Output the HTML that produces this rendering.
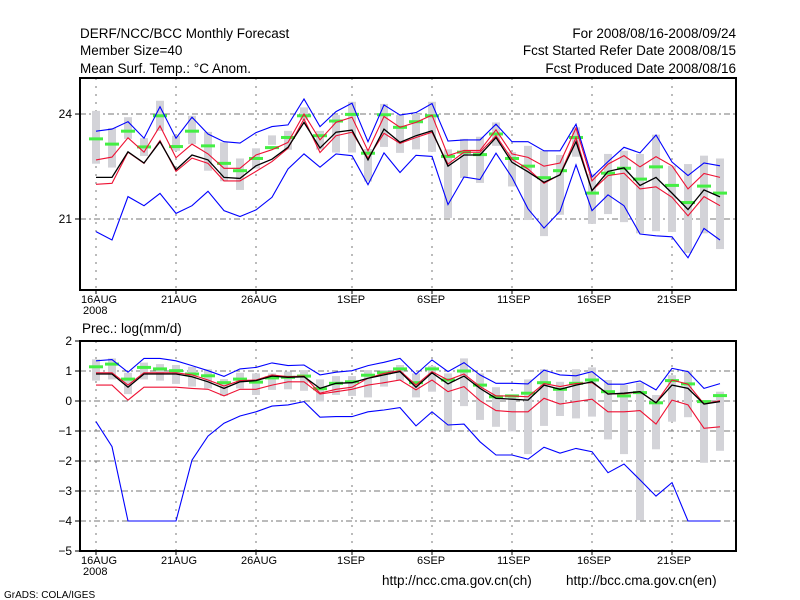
<!DOCTYPE html>
<html><head><meta charset="utf-8">
<style>
html,body{margin:0;padding:0;background:#fff;}
svg{display:block;font-family:"Liberation Sans",sans-serif;}
</style></head>
<body>
<svg id="chart" width="800" height="600" viewBox="0 0 800 600" xmlns="http://www.w3.org/2000/svg">
<rect x="0" y="0" width="800" height="600" fill="#fff"/>
<g font-size="13.5" fill="#000">
<text x="80" y="38">DERF/NCC/BCC Monthly Forecast</text>
<text x="80" y="55">Member Size=40</text>
<text x="80" y="73">Mean Surf. Temp.: °C Anom.</text>
<text x="736" y="38" text-anchor="end">For 2008/08/16-2008/09/24</text>
<text x="736" y="55" text-anchor="end">Fcst Started Refer Date 2008/08/15</text>
<text x="736" y="73" text-anchor="end">Fcst Produced Date 2008/08/16</text>
<text x="82" y="333">Prec.: log(mm/d)</text>
<text x="382" y="585">http://ncc.cma.gov.cn(ch)</text>
<text x="566" y="585">http://bcc.cma.gov.cn(en)</text>
<text x="4" y="598" font-size="10">GrADS: COLA/IGES</text>
</g>
<g id="plots"></g>
</svg>
<script>
// ---- data (day index 0 = 16AUG 2008) ----
const dayLabels = ["16AUG","21AUG","26AUG","1SEP","6SEP","11SEP","16SEP","21SEP"];
const dayLabelIdx = [0,5,10,16,21,26,31,36];
const tTicks = [24,21];
const pTicks = [2,1,0,-1,-2,-3,-4,-5];
// Temperature (°C anom)
const tMax = [23.51,23.57,23.78,23.31,24.21,23.31,23.91,23.43,23.21,23.17,23.47,23.64,23.69,24.43,23.64,24.07,24.31,23.21,24.26,23.97,24.04,24.30,23.23,23.26,23.26,23.71,23.21,23.21,22.95,22.95,23.71,22.20,22.64,23.05,22.89,23.40,22.63,22.24,22.60,22.52];
const tMin = [20.64,20.40,21.64,21.38,21.73,21.16,21.38,21.79,21.24,21.07,21.26,21.62,22.43,22.86,22.48,22.86,22.81,21.98,22.89,22.33,22.82,22.79,21.41,22.20,22.13,22.88,22.19,21.29,20.74,21.22,22.55,21.24,21.69,21.38,20.57,20.52,20.49,19.89,20.73,20.40];
const tUp = [22.69,22.77,23.32,22.91,23.66,22.75,23.14,22.86,22.45,22.45,22.83,22.98,23.19,24.00,23.26,23.76,23.91,22.95,23.93,23.62,23.76,23.97,22.81,22.96,22.96,23.55,22.86,22.76,22.51,22.60,23.60,22.09,22.57,22.81,22.49,22.78,22.52,21.86,22.30,22.19];
const tLo = [21.99,22.02,22.91,22.59,23.24,22.36,22.74,22.59,22.09,22.09,22.36,22.64,23.02,23.86,22.90,23.38,23.48,22.74,23.45,23.16,23.33,23.48,22.57,22.91,22.91,23.38,22.71,22.43,22.02,22.27,23.33,21.81,22.24,22.31,21.86,21.92,21.62,21.09,21.64,21.38];
const tMean = [22.19,22.19,22.92,22.60,23.21,22.41,22.83,22.69,22.19,22.16,22.52,22.71,23.05,23.76,23.03,23.48,23.54,22.69,23.57,23.19,23.38,23.52,22.51,22.83,22.83,23.33,22.62,22.35,22.05,22.26,23.21,21.81,22.36,22.46,21.96,22.19,21.74,21.27,21.83,21.63];
const tObs = [23.29,23.14,23.51,23.06,23.95,23.07,23.51,23.09,22.59,22.38,22.73,23.04,23.33,23.95,23.38,23.80,23.99,22.88,23.98,23.62,23.78,23.95,22.79,22.91,22.84,23.43,22.73,22.51,22.18,22.38,23.33,21.74,22.31,22.45,22.14,22.49,21.96,21.47,21.94,21.74];
const tBarHi = [24.09,23.60,23.91,23.31,24.38,23.38,23.95,23.49,23.19,22.73,23.02,23.39,23.52,24.19,23.52,23.97,24.35,23.00,24.29,23.97,24.00,24.35,22.99,23.29,23.35,23.76,22.91,23.09,22.95,22.83,23.62,22.29,22.86,22.95,22.86,23.41,22.52,22.57,22.81,22.73];
const tBarLo = [22.58,22.47,23.29,22.80,23.52,22.95,23.14,22.38,22.08,21.83,22.44,23.12,22.98,23.83,22.98,22.90,22.90,22.07,23.06,22.89,22.99,22.92,21.03,22.17,22.03,23.09,21.93,20.97,20.51,21.12,22.78,20.86,21.14,20.91,20.59,20.65,20.63,20.03,20.59,20.14];
// Precipitation log(mm/d)
const pMax = [1.34,1.38,0.96,1.42,1.42,1.34,1.18,1.01,0.82,1.07,1.12,1.27,1.18,1.20,0.87,0.96,1.01,1.18,1.29,1.42,0.89,1.37,0.98,1.28,0.87,0.59,0.59,0.57,1.03,0.87,0.84,0.98,0.56,0.56,0.67,0.37,1.09,0.98,0.42,0.58];
const pMin = [-0.69,-1.52,-4.0,-4.0,-4.0,-4.0,-1.97,-1.17,-0.74,-0.50,-0.36,-0.17,-0.13,-0.02,-0.54,-0.52,-0.52,-0.36,-0.30,-0.22,-0.83,-0.36,-0.80,-0.77,-1.36,-1.80,-1.80,-1.94,-1.54,-1.74,-1.58,-1.69,-2.39,-2.10,-2.63,-3.17,-2.72,-4.0,-4.0,-4.0];
const pUp = [0.94,0.94,0.53,0.94,0.94,0.94,0.87,0.70,0.50,0.68,0.70,0.87,0.81,0.83,0.26,0.39,0.46,0.76,0.92,1.01,0.53,0.98,0.70,0.90,0.48,0.17,0.17,0.14,0.58,0.48,0.58,0.61,0.24,0.24,0.31,-0.06,0.70,0.56,-0.10,0.01];
const pLo = [0.53,0.53,0.03,0.46,0.46,0.46,0.42,0.39,0.17,0.39,0.39,0.53,0.64,0.64,0.23,0.31,0.39,0.53,0.61,0.70,0.37,0.70,0.31,0.48,0.01,-0.32,-0.36,-0.36,0.09,-0.10,-0.02,0.06,-0.36,-0.36,-0.32,-0.77,0.03,-0.13,-0.91,-0.86];
const pMean = [0.90,0.90,0.46,0.90,0.90,0.90,0.81,0.64,0.42,0.64,0.68,0.83,0.79,0.81,0.42,0.59,0.61,0.76,0.87,0.98,0.46,0.94,0.57,0.83,0.42,0.09,0.06,0.03,0.53,0.39,0.53,0.64,0.23,0.26,0.31,-0.06,0.53,0.42,-0.10,-0.02];
const pObs = [1.14,1.23,0.73,1.12,1.07,1.01,0.90,0.84,0.61,0.73,0.63,0.77,0.79,0.83,0.41,0.59,0.64,0.86,0.94,1.07,0.61,1.07,0.70,1.00,0.53,0.14,0.17,0.26,0.61,0.39,0.59,0.70,0.31,0.17,0.28,-0.06,0.68,0.57,-0.02,0.18];
const pBarHi = [1.39,1.42,0.94,1.28,1.23,1.20,1.14,1.06,0.73,0.94,0.92,0.92,0.98,1.03,0.72,0.83,0.83,1.03,1.03,1.20,0.92,1.17,0.92,1.42,0.92,0.46,0.20,0.72,1.06,0.64,1.06,1.12,0.70,0.53,0.61,0.20,0.86,1.01,0.01,0.31];
const pBarLo = [0.68,0.72,0.23,0.72,0.68,0.57,0.48,0.42,0.17,0.42,0.20,0.37,0.39,0.34,-0.02,0.20,0.17,0.12,0.48,0.68,0.12,0.31,-0.99,-0.17,-0.63,-0.86,-1.02,-1.77,-0.83,-0.50,-0.58,-0.52,-1.28,-1.77,-3.97,-1.61,-0.69,-0.54,-2.06,-1.66];

const NS = "http://www.w3.org/2000/svg";
const root = document.getElementById("plots");
const X0 = 96, DX = 16, LEFT = 80, RIGHT = 736;
function xs(i){ return X0 + DX*i; }
function mk(tag, attrs, parent){
  const e = document.createElementNS(NS, tag);
  for (const k in attrs) e.setAttribute(k, attrs[k]);
  (parent||root).appendChild(e);
  return e;
}
function panel(name, top, bottom, vTop, vBot, ticks, gridVals, S){
  const g = mk("g", {});
  
  
  const ys = v => top + (vTop - v) * (bottom - top) / (vTop - vBot);
  for (const idx of dayLabelIdx){
    const gl = mk("line", {x1:xs(idx), x2:xs(idx), y1:top, y2:bottom, stroke:"#777", "stroke-width":1, "stroke-dasharray":"2,6"}, g);
    
    
  }
  for (const v of gridVals){
    const gl = mk("line", {x1:LEFT, x2:RIGHT, y1:ys(v), y2:ys(v), stroke:"#777", "stroke-width":1, "stroke-dasharray":"6,3,2,3"}, g);
    
    
  }
  for (let i=0;i<S.barHi.length;i++){
    const y1 = ys(S.barHi[i]), y2 = ys(Math.max(S.barLo[i], vBot));
    const r = mk("rect", {x:xs(i)-4, y:y1, width:8, height:Math.max(1,y2-y1), fill:"#d3d3d8"}, g);
    
    
  }
  for (let i=0;i<S.obs.length;i++){
    const r = mk("rect", {x:xs(i)-7, y:ys(S.obs[i])-1.5, width:14, height:3, fill:"#44ee44"}, g);
    
    
  }
  const lines = [[S.max,"#0000ff","max-line"],[S.min,"#0000ff","min-line"],[S.up,"#ee1133","upper-spread-line"],[S.lo,"#ee1133","lower-spread-line"],[S.mean,"#000","ensemble-mean-line"]];
  for (const [arr,col,nm] of lines){
    const pts = arr.map((v,i)=>xs(i)+","+ys(v).toFixed(1)).join(" ");
    const pl = mk("polyline", {points:pts, fill:"none", stroke:col, "stroke-width":nm==="ensemble-mean-line"?1.3:1.1}, g);
    
    
  }
  const fr = mk("rect", {x:LEFT, y:top, width:RIGHT-LEFT, height:bottom-top, fill:"none", stroke:"#000", "stroke-width":2}, g);
  
  
  for (const v of ticks){
    const tl = mk("line", {x1:LEFT-5, x2:LEFT, y1:ys(v), y2:ys(v), stroke:"#000"}, g);
    
    
    const t = mk("text", {x:LEFT-8, y:ys(v)+4, "text-anchor":"end", "font-size":12}, g);
    t.textContent = v < 0 ? "\u2212"+Math.abs(v) : String(v);
    
    
  }
  dayLabelIdx.forEach((idx,k)=>{
    const tl = mk("line", {x1:xs(idx), x2:xs(idx), y1:bottom, y2:bottom+4, stroke:"#000"}, g);
    
    
    const t = mk("text", {x:xs(idx)-15, y:bottom+13, "font-size":11}, g);
    t.textContent = dayLabels[k];
    
    
  });
  const yr = mk("text", {x:xs(0)-13, y:bottom+24, "font-size":11}, g);
  yr.textContent = "2008";
  
  
}
panel("temperature-panel", 78, 290, 25.03, 18.97, tTicks, tTicks,
  {max:tMax,min:tMin,up:tUp,lo:tLo,mean:tMean,obs:tObs,barHi:tBarHi,barLo:tBarLo});
panel("precipitation-panel", 341, 551, 2, -5, pTicks, [1,0,-1,-2,-3,-4],
  {max:pMax,min:pMin,up:pUp,lo:pLo,mean:pMean,obs:pObs,barHi:pBarHi,barLo:pBarLo});
</script>
</body></html>
